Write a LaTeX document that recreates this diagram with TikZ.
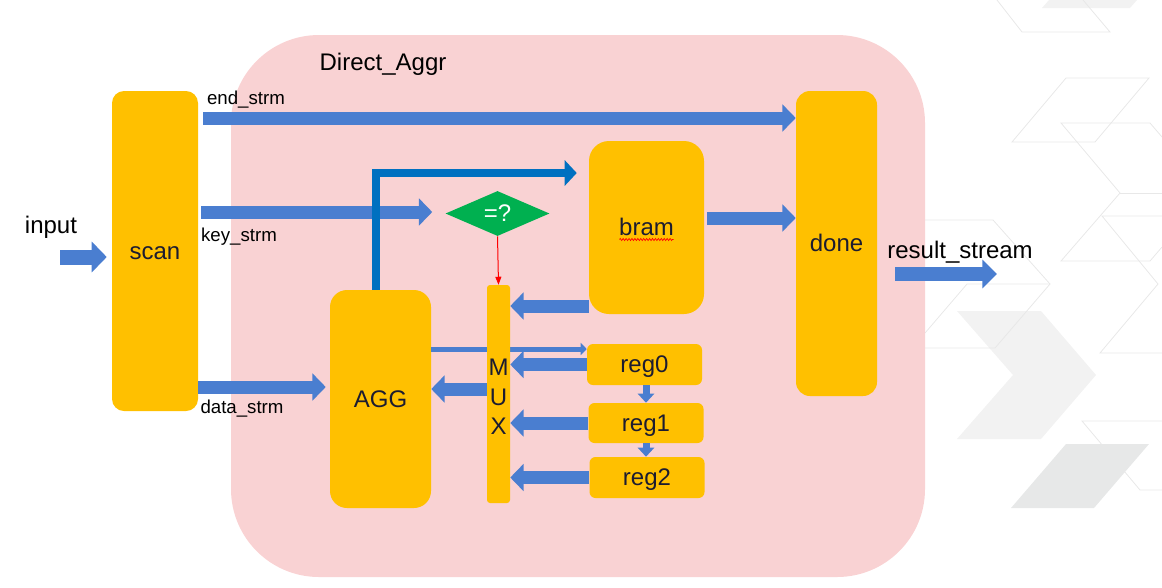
\documentclass[tikz,border=0pt]{standalone}
\usepackage{fontspec}
\setmainfont{Liberation Sans}
\usetikzlibrary{arrows.meta,positioning,calc,shapes.geometric,decorations.pathmorphing}

\definecolor{pinkbg}{RGB}{249,210,211}
\definecolor{boxyellow}{RGB}{255,192,0}
\definecolor{flowblue}{RGB}{74,126,208}
\definecolor{ctrlblue}{RGB}{0,112,192}
\definecolor{cmpgreen}{RGB}{0,176,80}
\definecolor{inktext}{RGB}{28,28,48}
\definecolor{decofill}{RGB}{242,242,242}
\definecolor{decodark}{RGB}{231,232,232}
\definecolor{decoline}{RGB}{232,232,232}

\tikzset{
  blk/.style={fill=boxyellow, text=inktext, inner sep=0pt, font=\fontsize{18}{22}\selectfont, text height=16.3pt, text depth=3.8pt},
  lbl/.style={inner sep=0pt, font=\fontsize{14}{16}\selectfont, text height=12.7pt, text depth=3pt},
  big/.style={inner sep=0pt, font=\fontsize{18}{22}\selectfont, text height=16.3pt, text depth=3.8pt},
  fat/.style={draw=flowblue, line width=9.75pt, -{Triangle[length=10pt,width=20pt]}},
  slim/.style={draw=flowblue, line width=3.75pt, -{Triangle[length=4.5pt,width=9pt]}},
  drop/.style={draw=flowblue, line width=5.25pt, -{Triangle[length=6.75pt,width=12pt]}},
}

\begin{document}
\begin{tikzpicture}[x=0.75pt, y=-0.75pt, >=Triangle]
  \useasboundingbox (0,0) rectangle (1162,587);

  % background art
  \fill[decofill] (957,311) -- (1041,311) -- (1096,375) -- (1041,439) -- (957,439) -- (1013,375) -- cycle;
  \fill[decodark] (1011,508) -- (1094,508) -- (1149,444) -- (1066,444) -- cycle;
  \fill[decofill] (1042,8) -- (1130,8) -- (1137,0) -- (1049,0) -- cycle;
  \draw[decoline, line width=0.6pt] (997,0) -- (1022,32) -- (1110,32) -- (1083,0);
  \draw[decoline, line width=0.6pt] (1012,142) -- (1095,142) -- (1149,78) -- (1066,78) -- cycle;
  \draw[decoline, line width=0.6pt] (1162,137) -- (1150,123) -- (1061,123) -- (1120,193) -- (1061,261) -- (1150,261) -- (1162,247);
  \draw[decoline, line width=0.6pt] (1120,193) -- (1162,193);
  \draw[decoline, line width=0.6pt] (1162,216) -- (1102,216) -- (1158,284) -- (1100,353) -- (1162,353);
  \draw[decoline, line width=0.6pt] (925,220) -- (993,220) -- (1050,284) -- (995,348) -- (925,348);
  \draw[decoline, line width=0.6pt] (925,333) -- (967,284) -- (1050,284);
  \draw[decoline, line width=0.6pt] (1162,421) -- (1082,421) -- (1140,490) -- (1162,490);

  % Direct_Aggr block
  \fill[pinkbg, rounded corners=66pt] (231,35) rectangle (925,577);
  \node[big] (title) at (383,62) {Direct\_Aggr};

  \node[blk, rounded corners=9pt, minimum width=64.5pt, minimum height=240pt] (scan) at (155,251) {scan};
  \node[blk, rounded corners=12.75pt, minimum width=75.75pt, minimum height=163.5pt] (agg) at (380.5,399) {AGG};
  \node[blk, rounded corners=15pt, minimum width=86.25pt, minimum height=129.75pt] (bram) at (646.5,227.5) {bram};
  \node[blk, rounded corners=10.5pt, minimum width=60.75pt, minimum height=228.75pt] (done) at (836.5,243.5) {done};
  \node[blk, rounded corners=4.5pt, minimum width=86.25pt, minimum height=30.75pt] (reg0) at (644.5,364.5) {reg0};
  \node[blk, rounded corners=4.5pt, minimum width=86.25pt, minimum height=30pt] (reg1) at (646,423) {reg1};
  \node[blk, rounded corners=4.5pt, minimum width=86.25pt, minimum height=30.75pt] (reg2) at (647,477.5) {reg2};
  \node[diamond, fill=cmpgreen, text=white, inner sep=0pt, aspect=2.3, minimum width=78pt, minimum height=33.75pt, font=\fontsize{18}{22}\selectfont] (cmp) at (497.5,213.5) {=?};
  \draw[red, line width=0.5pt, decorate, decoration={zigzag, amplitude=0.8pt, segment length=2.2pt}] ($(bram.center)+(-27,12)$) -- ($(bram.center)+(27,12)$);

  \draw[slim] (agg.east |- 0,349) -- (reg0.west |- 0,349);
  \node[blk, rounded corners=2.25pt, minimum width=17.25pt, minimum height=163.5pt, align=center, text height=64.7pt, text depth=3.8pt] (mux) at (498.5,394) {M\\U\\X};

  % labels
  \node[big] (inlbl) at (51,225) {input};
  \node[lbl] at (246,98) {end\_strm};
  \node[lbl] at (239,235) {key\_strm};
  \node[lbl] at (242,407) {data\_strm};
  \node[big] (outlbl) at (960,250) {result\_stream};

  % streams
  \coordinate (inp) at (60,257);
  \coordinate (outp) at (997,274);
  \draw[fat, line width=11.25pt, -{Triangle[length=11.25pt,width=22.5pt]}, shorten >=3.75pt] (inp) -- (inp -| scan.west);
  \draw[fat, shorten <=3.75pt] (scan.east |- 0,118) -- (done.west |- 0,118);
  \draw[fat, shorten <=2.25pt, shorten >=9.75pt] (scan.east |- 0,212) -- (cmp.west |- 0,212);
  \draw[fat, shorten >=3pt] (scan.east |- 0,387) -- (agg.west |- 0,387);
  \draw[ctrlblue, line width=6pt, -{Triangle[length=9pt,width=18.75pt]}, shorten >=9pt] ([xshift=-3.4pt]agg.north) |- (bram.west |- 0,173);
  \draw[fat] (bram.west |- 0,306) -- (mux.east |- 0,306);
  \draw[fat] (reg0.west) -- (mux.east |- reg0.west);
  \draw[fat] (mux.west |- 0,389) -- (agg.east |- 0,389);
  \draw[fat] (reg1.west) -- (mux.east |- reg1.west);
  \draw[fat] (reg2.west) -- (mux.east |- reg2.west);
  \draw[drop] (reg1.north |- reg0.south) -- (reg1.north);
  \draw[drop] (reg1.south) -- (reg1.south |- reg2.north);
  \draw[fat, shorten <=2.25pt] (bram.east |- 0,218) -- (done.west |- 0,218);
  \draw[fat, line width=10.5pt, -{Triangle[length=11pt,width=21pt]}, shorten <=13.5pt] (done.east |- outp) -- (outp);
  \draw[red, line width=0.75pt, -{Triangle[length=6pt,width=4.5pt]}] (cmp.south) -- (mux.north);
\end{tikzpicture}
\end{document}
